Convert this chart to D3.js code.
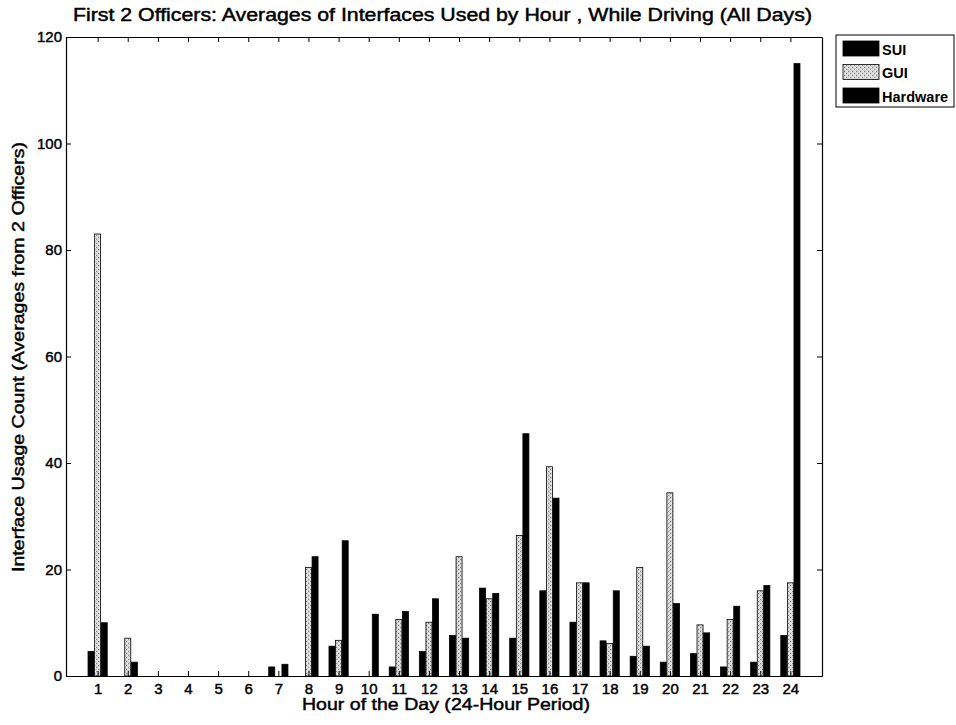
<!DOCTYPE html>
<html>
<head>
<meta charset="utf-8">
<script src="https://cdn.jsdelivr.net/npm/d3@7"></script>
<style>
  body { margin: 0; background: #fff; }
  svg { font-family: "Liberation Sans", Arial, sans-serif; }
  .heavy { stroke: #000; stroke-width: 0.45px; }
</style>
</head>
<body>
<div id="chart"></div>
<script>
var hours = d3.range(1, 25);
var seriesNames = ["SUI", "GUI", "Hardware"];
var sui = [4.6, 0, 0, 0, 0, 0, 1.7, 0, 5.6, 0, 1.7, 4.6, 7.6, 16.5, 7.1, 16.0, 10.1, 6.6, 3.7, 2.6, 4.2, 1.7, 2.6, 7.6];
var gui = [83.0, 7.1, 0, 0, 0, 0, 0, 20.4, 6.7, 0, 10.6, 10.1, 22.4, 14.5, 26.4, 39.3, 17.5, 6.1, 20.4, 34.4, 9.6, 10.6, 16.0, 17.5];
var hardware = [10.0, 2.6, 0, 0, 0, 0, 2.2, 22.4, 25.4, 11.6, 12.1, 14.5, 7.1, 15.5, 45.5, 33.4, 17.5, 16.0, 5.6, 13.6, 8.1, 13.1, 17.0, 115.0];
var yTicks = [0, 20, 40, 60, 80, 100, 120];

var svgWidth = 956, svgHeight = 725;
var margin = { top: 37, right: 134, bottom: 49, left: 66 };
var width = svgWidth - margin.left - margin.right;
var height = svgHeight - margin.top - margin.bottom;

var svg = d3.select("#chart").append("svg")
    .attr("width", svgWidth)
    .attr("height", svgHeight);

// stippled fill for the GUI bars
var defs = svg.append("defs");
var pat = defs.append("pattern")
    .attr("id", "stipple")
    .attr("patternUnits", "userSpaceOnUse")
    .attr("width", 4).attr("height", 4);
pat.append("rect").attr("width", 4).attr("height", 4).attr("fill", "#d4d4d4");
pat.append("rect").attr("x", 0).attr("y", 0).attr("width", 1).attr("height", 1).attr("fill", "#777");
pat.append("rect").attr("x", 2).attr("y", 2).attr("width", 1).attr("height", 1).attr("fill", "#888");
pat.append("rect").attr("x", 3).attr("y", 0).attr("width", 1).attr("height", 1).attr("fill", "#fff");
pat.append("rect").attr("x", 1).attr("y", 2).attr("width", 1).attr("height", 1).attr("fill", "#fff");

var g = svg.append("g")
    .attr("transform", "translate(" + margin.left + "," + margin.top + ")");

var x = d3.scaleLinear().domain([-0.05, 25.05]).range([0, width]);
var y = d3.scaleLinear().domain([0, 120]).range([height, 0]);

var barW = 6, offsets = [-6.6, 0, 6.6];
var fills = ["#000", "url(#stipple)", "#000"];
var data = [sui, gui, hardware];

data.forEach(function(vals, s) {
  g.append("g").selectAll("rect")
    .data(vals)
    .enter().append("rect")
      .attr("x", (d, i) => x(hours[i]) + offsets[s] - barW / 2)
      .attr("y", d => y(d))
      .attr("width", barW)
      .attr("height", d => y(0) - y(d))
      .attr("fill", fills[s])
      .attr("stroke", d => d > 0 ? "#000" : "none")
      .attr("stroke-width", 0.8);
});

// axes, matlab style: ticks pointing in, box all round
var xAxis = g.append("g")
    .attr("transform", "translate(0," + height + ")")
    .call(d3.axisBottom(x).tickValues(hours).tickSizeInner(-5).tickSizeOuter(0).tickPadding(7));
var yAxis = g.append("g")
    .call(d3.axisLeft(y).tickValues(yTicks).tickSizeInner(-5).tickSizeOuter(0).tickPadding(4));
g.append("g")
    .call(d3.axisTop(x).tickValues(hours).tickSizeInner(-5).tickSizeOuter(0).tickFormat(""));
g.append("g")
    .attr("transform", "translate(" + width + ",0)")
    .call(d3.axisRight(y).tickValues(yTicks).tickSizeInner(-5).tickSizeOuter(0).tickFormat(""));

g.selectAll(".domain").attr("stroke", "#000").attr("stroke-width", 1.2);
g.selectAll(".tick line").attr("stroke", "#000");
xAxis.selectAll("text").attr("font-size", 15).attr("fill", "#000").attr("class", "heavy");
yAxis.selectAll("text").attr("font-size", 15).attr("fill", "#000").attr("class", "heavy");

svg.append("text")
    .attr("class", "heavy")
    .attr("x", 442.5).attr("y", 21)
    .attr("text-anchor", "middle")
    .attr("font-size", 17.5)
    .attr("textLength", 739).attr("lengthAdjust", "spacingAndGlyphs")
    .text("First 2 Officers: Averages of Interfaces Used by Hour , While Driving (All Days)");

svg.append("text")
    .attr("class", "heavy")
    .attr("x", 446).attr("y", 710)
    .attr("text-anchor", "middle")
    .attr("font-size", 16.5)
    .attr("textLength", 288).attr("lengthAdjust", "spacingAndGlyphs")
    .text("Hour of the Day (24-Hour Period)");

svg.append("text")
    .attr("class", "heavy")
    .attr("transform", "translate(24,357) rotate(-90)")
    .attr("text-anchor", "middle")
    .attr("font-size", 17)
    .attr("textLength", 430).attr("lengthAdjust", "spacingAndGlyphs")
    .text("Interface Usage Count (Averages from 2 Officers)");

// legend
var leg = svg.append("g").attr("transform", "translate(836,35)");
leg.append("rect")
    .attr("width", 118).attr("height", 72)
    .attr("fill", "#fff").attr("stroke", "#000").attr("stroke-width", 1);
seriesNames.forEach(function(name, i) {
  leg.append("rect")
      .attr("x", 7).attr("y", 6 + i * 23.5)
      .attr("width", 36).attr("height", 15)
      .attr("fill", fills[i]).attr("stroke", "#000").attr("stroke-width", 0.8);
  leg.append("text")
      .attr("x", 46).attr("y", 19.5 + i * 23.5)
      .attr("font-size", 14.5).attr("font-weight", "bold")
      .text(name);
});
</script>
</body>
</html>
